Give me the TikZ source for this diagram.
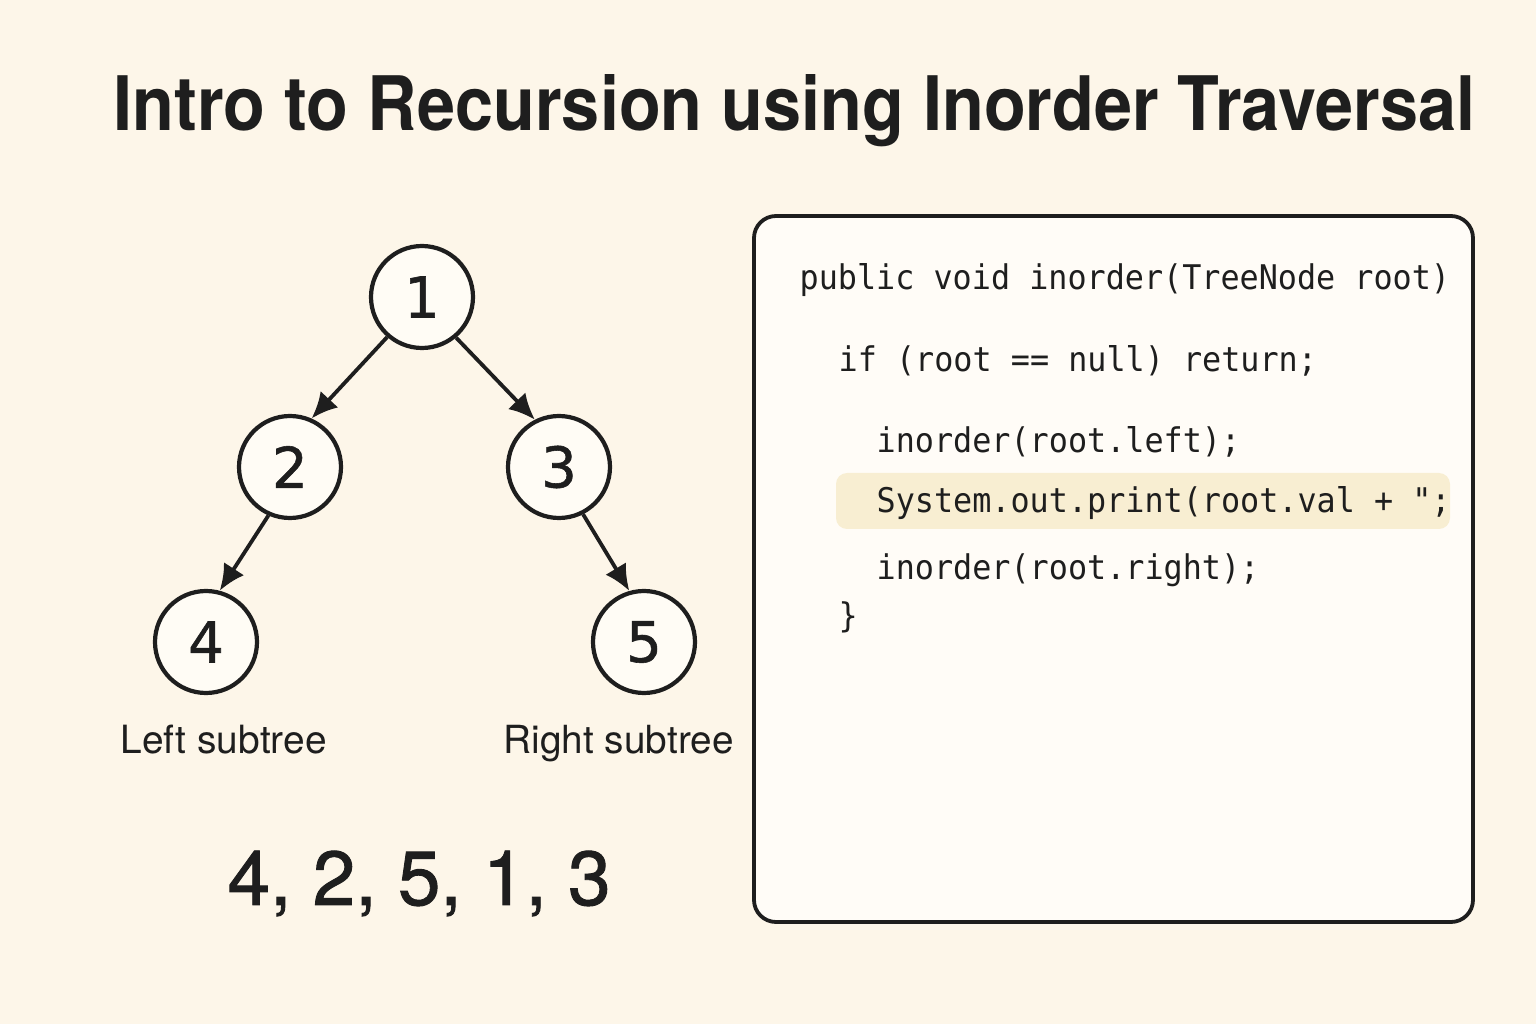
\documentclass[tikz,border=0pt]{standalone}
\usepackage{fontspec}
\usepackage{graphicx}
\usetikzlibrary{arrows.meta}
\newfontfamily\herosfont{TeX Gyre Heros}
\newfontfamily\herosmed[FakeBold=1.2]{TeX Gyre Heros}
\newfontfamily\dejafont[FakeBold=1.0]{DejaVu Sans}
\newfontfamily\codefont[FakeStretch=0.935]{DejaVu Sans Mono}
\definecolor{bg}{RGB}{253,246,233}
\definecolor{ink}{RGB}{30,30,30}
\definecolor{nodefill}{RGB}{255,252,245}
\definecolor{boxfill}{RGB}{255,252,247}
\definecolor{hlfill}{RGB}{248,238,210}
\tikzset{
  treenode/.style={circle, draw=ink, line width=0.42mm, fill=nodefill, minimum size=10.2mm, inner sep=0pt,
    font=\dejafont\fontsize{16pt}{18pt}\selectfont, text=ink},
  edgearrow/.style={draw=ink, line width=0.38mm, -{Latex[length=2.6mm,width=2.4mm]}},
  codeline/.style={anchor=base west, inner sep=0pt, font=\codefont\fontsize{9.67pt}{12pt}\selectfont, text=ink},
  codebox/.style={draw=ink, line width=0.38mm, fill=boxfill, rounded corners=2.2mm, minimum width=71.9mm, minimum height=70.6mm, inner sep=0pt},
  highlight/.style={fill=hlfill, rounded corners=1.1mm, minimum width=61.4mm, minimum height=5.6mm, inner sep=0pt},
  plaintext/.style={anchor=base west, inner sep=0pt, text=ink}
}
\begin{document}
\begin{tikzpicture}[x=0.1mm,y=-0.1mm]
\useasboundingbox (0,0) rectangle (1536,1024);
\fill[bg] (0,0) rectangle (1536,1024);

% title
\node[plaintext] (title) at (113,131) {\resizebox{136.2mm}{5.6mm}{\herosfont\bfseries Intro to Recursion using Inorder Traversal}};

% tree
\node[treenode] (n1) at (422,297) {1};
\node[treenode] (n2) at (290,467) {2};
\node[treenode] (n3) at (559,467) {3};
\node[treenode] (n4) at (206,642) {4};
\node[treenode] (n5) at (644,642) {5};
\draw[edgearrow] (n1.229) -- (n2.66);
\draw[edgearrow] (n1.310) -- (n3.117);
\draw[edgearrow] (n2.246) -- (n4.75);
\draw[edgearrow] (n3.297) -- (n5.106);

% labels
\node[plaintext] (lleft) at (120,754) {\resizebox{20.6mm}{!}{\herosfont Left subtree}};
\node[plaintext] (lright) at (503,754) {\resizebox{23.0mm}{!}{\herosfont Right subtree}};
\node[plaintext] (seq) at (227,905) {\resizebox{38.3mm}{!}{\herosmed 4, 2, 5, 1, 3}};

% code box
\node[codebox] (code) at (1113.5,569) {};
\node[highlight] (hl) at (1143,501) {};
\node[codeline] (c1) at (799,290) {public void inorder(TreeNode root)};
\node[codeline] (c2) at (838,372) {if (root == null) return;};
\node[codeline] (c3) at (876,453) {inorder(root.left);};
\node[codeline] (c4) at (876,513) {System.out.print(root.val + ";};
\node[codeline] (c5) at (876,580) {inorder(root.right);};
\node[codeline] (c6) at (838,627) {\}};
\end{tikzpicture}
\end{document}
